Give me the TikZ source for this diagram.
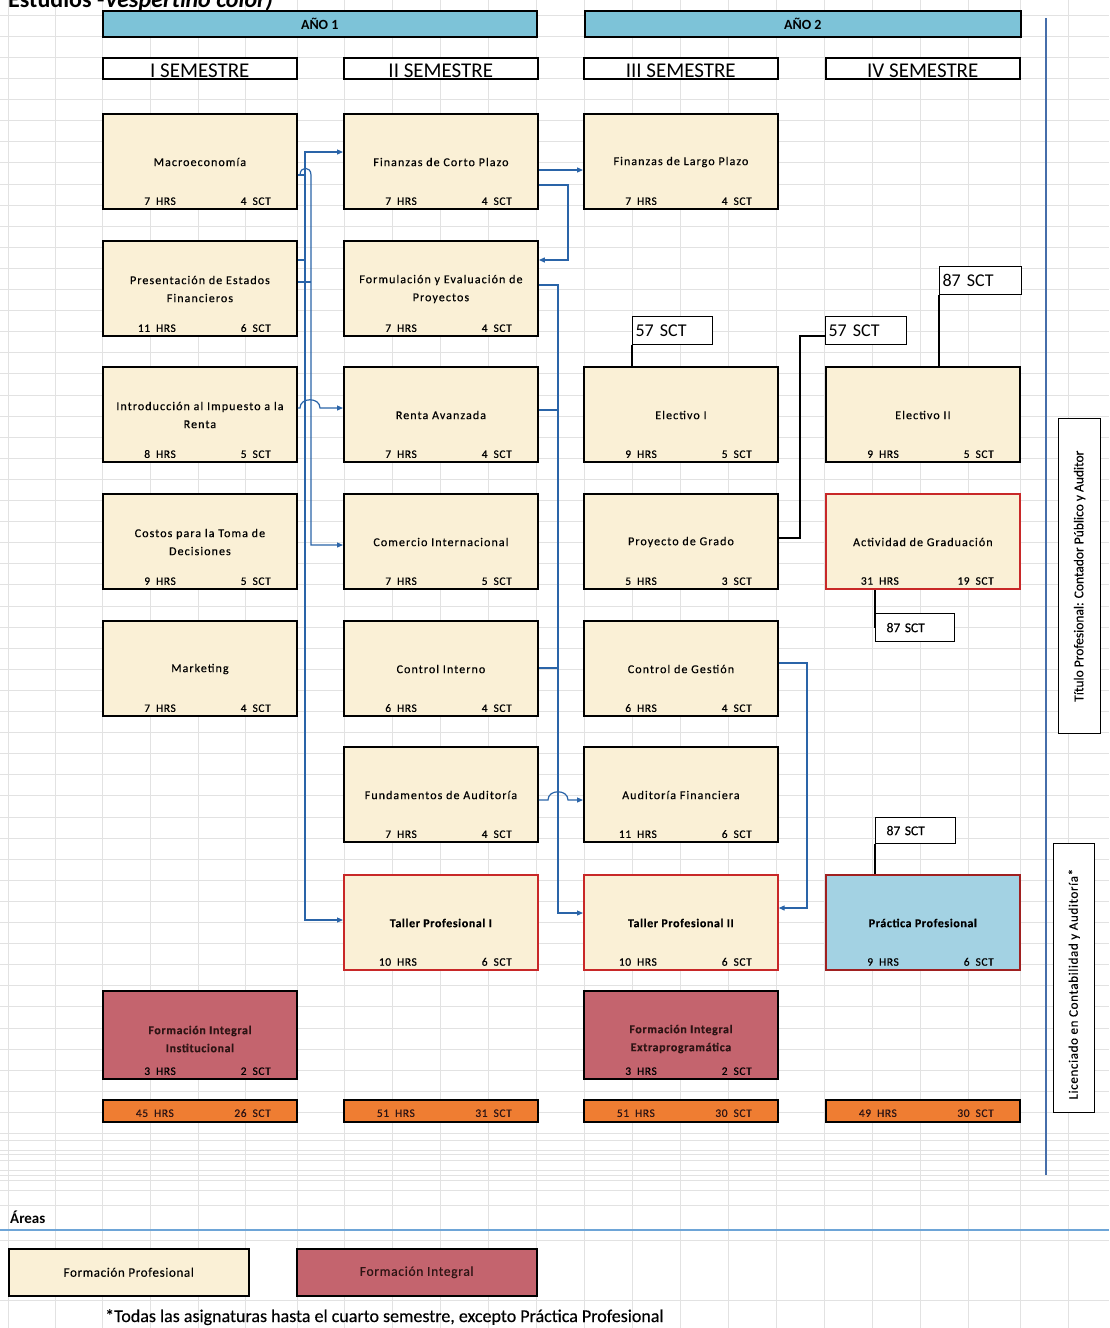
\documentclass[tikz,border=0pt]{standalone}
\usepackage{fontspec}
\setmainfont{Carlito}
\newfontfamily\spc[LetterSpace=9,FakeBold=0.4]{Carlito}
\newfontfamily\spcs[LetterSpace=5,FakeBold=0.4]{Carlito}
\newfontfamily\plainb[FakeBold=0.3]{Carlito}
\usetikzlibrary{arrows.meta,calc}
\definecolor{cream}{RGB}{250,240,214}
\definecolor{rose}{RGB}{196,100,110}
\definecolor{orangebar}{RGB}{239,125,50}
\definecolor{yearblue}{RGB}{125,195,216}
\definecolor{pracblue}{RGB}{163,210,227}
\definecolor{redb}{RGB}{200,40,40}
\definecolor{connblue}{RGB}{42,100,168}
\definecolor{gridc}{RGB}{226,226,226}
\definecolor{vlinec}{RGB}{70,110,170}
\definecolor{arealine}{RGB}{110,165,215}
\definecolor{darktxt}{RGB}{45,20,20}

\newcommand\crs[8]{%
  \node[#4] (#1) at (#2,#3) {};
  \node[ctitle,#8] (#1-t) at ($(#1.north)+(0,49)$) {#5};
  \node[hrs] (#1-h) at ($(#1.south west)+(74,-5)$) {#6\hspace{6pt}HRS};
  \node[hrs] (#1-s) at ($(#1.south west)+(169,-5)$) {#7\hspace{6pt}SCT};
}
\newcommand\totbar[4]{%
  \node[totb] (#1) at (#2,1099) {};
  \node[hrs,text=darktxt] (#1-h) at ($(#1.south west)+(72,-6)$) {#3\hspace{6pt}HRS};
  \node[hrs,text=darktxt] (#1-s) at ($(#1.south west)+(169,-6)$) {#4\hspace{6pt}SCT};
}

\begin{document}
\begin{tikzpicture}[x=1pt,y=-1pt,
  course/.style={draw=black, line width=1.9pt, fill=cream, minimum width=194pt, minimum height=95pt, anchor=north west, inner sep=0pt},
  redcourse/.style={course, draw=redb, line width=1.7pt},
  praccourse/.style={course, draw=redb!80!black, fill=pracblue, line width=1.7pt},
  rosecourse/.style={course, fill=rose, minimum height=88pt},
  ctitle/.style={align=center, inner sep=0pt, font=\spc\fontsize{12}{18}\selectfont},
  btitle/.style={font=\spcs\bfseries\fontsize{12}{18}\selectfont},
  hrs/.style={anchor=base east, inner sep=0pt, font=\spcs\fontsize{11.5}{12}\selectfont},
  totb/.style={draw=black, line width=1.9pt, fill=orangebar, minimum width=194pt, minimum height=22pt, anchor=north west, inner sep=0pt},
  yearbar/.style={draw=black, line width=1.5pt, fill=yearblue, anchor=north west, minimum height=26pt, inner sep=0pt, font=\bfseries\fontsize{14}{15}\selectfont},
  sembox/.style={draw=black, line width=1.6pt, fill=white, anchor=north west, minimum width=194pt, minimum height=21pt, inner sep=0pt},
  semtxt/.style={inner sep=0pt, anchor=base, font=\fontsize{21}{22}\selectfont},
  sctbox/.style={draw=black, line width=1.2pt, fill=white, anchor=north west, inner xsep=3pt, inner ysep=0pt, align=left},
  conn/.style={draw=connblue, line width=1.2pt},
  arr/.style={conn, -{Triangle[length=6pt,width=5pt]}},
  blk/.style={draw=black, line width=1.5pt},
  gridl/.style={draw=gridc, line width=0.6pt},
  vbox/.style={draw=black, line width=1.3pt, fill=white, anchor=north west, inner sep=0pt}
]
\useasboundingbox (0,0) rectangle (1109,1328);
\fill[white] (0,0) rectangle (1109,1328);

% spreadsheet grid
\foreach \gx in {8,55,102,150,198,245,297,344,392,440,488,536,584,632,680,728,776,824,872,920,968,1020,1068}
  \draw[gridl] (\gx,0) -- (\gx,1328);
\foreach \i in {0,...,55}
  \draw[gridl] (0,{15+21.1*\i}) -- (1109,{15+21.1*\i});
\foreach \gy in {1140,1150,1160,1170,1180,1190,1205,1240,1300}
  \draw[gridl] (0,\gy) -- (1109,\gy);

% cut title at the top
\begin{scope}
\clip (0,0) rectangle (1109,11);
\node[anchor=base west, inner sep=0pt, font=\bfseries\fontsize{24}{24}\selectfont] (ttl) at (8,7) {Estudios -\textit{Vespertino color)}};
\end{scope}

% year bars
\node[yearbar, minimum width=434pt] (y1) at (102,10) {AÑO 1};
\node[yearbar, minimum width=436pt] (y2) at (584,10) {AÑO 2};

% semester boxes
\node[sembox] (s1) at (102,57) {};
\node[sembox] (s2) at (343,57) {};
\node[sembox] (s3) at (583,57) {};
\node[sembox] (s4) at (825,57) {};
\node[semtxt] (s1-t) at ($(s1.south)+(0,-2)$) {I SEMESTRE};
\node[semtxt] (s2-t) at ($(s2.south)+(0,-2)$) {II SEMESTRE};
\node[semtxt] (s3-t) at ($(s3.south)+(0,-2)$) {III SEMESTRE};
\node[semtxt] (s4-t) at ($(s4.south)+(0,-2)$) {IV SEMESTRE};

% column 1
\crs{mac}{102}{113}{course}{Macroeconomía}{7}{4}{}
\crs{pef}{102}{240}{course}{Presentación de Estados\\Financieros}{11}{6}{}
\crs{iir}{102}{366}{course}{Introducción al Impuesto a la\\Renta}{8}{5}{}
\crs{ctd}{102}{493}{course}{Costos para la Toma de\\Decisiones}{9}{5}{}
\crs{mkt}{102}{620}{course}{Marketing}{7}{4}{}
\crs{fii}{102}{990}{rosecourse}{Formación Integral\\Institucional}{3}{2}{btitle,text=darktxt}

% column 2
\crs{fcp}{343}{113}{course}{Finanzas de Corto Plazo}{7}{4}{}
\crs{fep}{343}{240}{course}{Formulación y Evaluación de\\Proyectos}{7}{4}{}
\crs{ren}{343}{366}{course}{Renta Avanzada}{7}{4}{}
\crs{com}{343}{493}{course}{Comercio Internacional}{7}{5}{}
\crs{cin}{343}{620}{course}{Control Interno}{6}{4}{}
\crs{fau}{343}{746}{course}{Fundamentos de Auditoría}{7}{4}{}
\crs{tp1}{343}{874}{redcourse}{Taller Profesional I}{10}{6}{btitle}

% column 3
\crs{flp}{583}{113}{course}{Finanzas de Largo Plazo}{7}{4}{}
\crs{el1}{583}{366}{course}{Electivo I}{9}{5}{}
\crs{pgr}{583}{493}{course}{Proyecto de Grado}{5}{3}{}
\crs{cge}{583}{620}{course}{Control de Gestión}{6}{4}{}
\crs{afi}{583}{746}{course}{Auditoría Financiera}{11}{6}{}
\crs{tp2}{583}{874}{redcourse}{Taller Profesional II}{10}{6}{btitle}
\crs{fie}{583}{990}{rosecourse}{Formación Integral\\Extraprogramática}{3}{2}{btitle,text=darktxt}

% column 4
\crs{el2}{825}{366}{course}{Electivo II}{9}{5}{}
\crs{agr}{825}{493}{redcourse}{Actividad de Graduación}{31}{19}{}
\crs{ppr}{825}{874}{praccourse}{Práctica Profesional}{9}{6}{btitle}

% totals
\totbar{t1}{102}{45}{26}
\totbar{t2}{343}{51}{31}
\totbar{t3}{583}{51}{30}
\totbar{t4}{825}{49}{30}

% SCT milestone boxes
\node[sctbox, text width=74pt, minimum height=28pt, font=\fontsize{18}{20}\selectfont] (s57a) at (632,316) {57 SCT};
\node[sctbox, text width=75pt, minimum height=28pt, font=\fontsize{18}{20}\selectfont] (s57b) at (825,316) {57 SCT};
\node[sctbox, text width=76pt, minimum height=28pt, font=\fontsize{18}{20}\selectfont] (s87a) at (939,266) {87 SCT};
\node[sctbox, text width=73pt, minimum height=28pt, inner xsep=3pt, font=\plainb\fontsize{13.5}{15}\selectfont] (s87b) at (875,613) {\hspace{8pt}87 SCT};
\node[sctbox, text width=74pt, minimum height=26pt, inner xsep=3pt, font=\plainb\fontsize{13.5}{15}\selectfont] (s87c) at (875,817) {\hspace{8pt}87 SCT};

% black milestone links
\draw[blk] (s57a.south west) -- (s57a.south west |- el1.north);
\draw[blk] (s87a.south west) -- (s87a.south west |- el2.north);
\draw[blk] (s87b.west) -- (s87b.west |- agr.south);
\draw[blk] (s87c.south west) -- (s87c.south west |- ppr.north);
\draw[blk] (pgr.east |- 0,538) -- (800,538) -- (800,336) -- (s57b.west |- 0,336);

% connectors between column 1 and 2
\draw[conn] (mac.east |- 0,175) -- (305,175);
\draw[arr] (pef.east |- 0,260) -- (305,260) -- (305,152) -- (fcp.west |- 0,152);
\draw[arr] (305,260) -- (305,920) -- (tp1.west |- 0,920);
\draw[arr] (mac.east |- 0,175) -- (300,175) .. controls (300,166) and (311,166) .. (311,175) -- (311,545) -- (com.west |- 0,545);
\draw[conn] (pef.east |- 0,282) -- (311,282);
\draw[arr] (iir.east |- 0,408) -- (300,408) .. controls (300,397) and (320,397) .. (320,408) -- (ren.west |- 0,408);

% connectors between column 2 and 3
\draw[arr] (fcp.east |- 0,170) -- (flp.west |- 0,170);
\draw[arr] (fcp.east |- 0,185) -- (568,185) -- (568,260) -- (fep.east |- 0,260);
\draw[arr] (fep.east |- 0,285) -- (558,285) -- (558,913) -- (tp2.west |- 0,913);
\draw[conn] (ren.east |- 0,410) -- (558,410);
\draw[conn] (cin.east |- 0,668) -- (558,668);
\draw[arr] (fau.east |- 0,800) -- (548,800) .. controls (548,789) and (568,789) .. (568,800) -- (afi.west |- 0,800);

% connectors between column 3 and 4
\draw[arr] (cge.east |- 0,663) -- (807,663) -- (807,908) -- (tp2.east |- 0,908);

% right side
\coordinate (vt) at (1046,18);
\coordinate (vb) at (1046,1175);
\draw[draw=vlinec, line width=1.5pt] (vt) -- (vb);
\node[vbox, minimum width=42pt, minimum height=315pt] (tit) at (1058,418) {};
\node[rotate=90, inner sep=0pt, font=\plainb\fontsize{13.5}{14}\selectfont] (tit-t) at (tit.center) {Título Profesional: Contador Público y Auditor};
\node[vbox, minimum width=41pt, minimum height=269pt] (lic) at (1053,843) {};
\node[rotate=90, inner sep=0pt, font=\spcs\fontsize{13}{14}\selectfont] (lic-t) at ($(lic.center)+(0,6)$) {Licenciado en Contabilidad y Auditoría*};

% areas legend
\node[anchor=base west, inner sep=0pt, font=\bfseries\fontsize{15}{16}\selectfont] (areas) at (10,1223) {Áreas};
\coordinate (al) at (0,1230);
\coordinate (ar) at (1109,1230);
\draw[draw=arealine, line width=1.4pt] (al) -- (ar);
\node[draw=black, line width=1.5pt, fill=cream, anchor=north west, minimum width=240pt, minimum height=47pt, font=\spcs\fontsize{13}{14}\selectfont] (lgp) at (8,1248) {Formación Profesional};
\node[draw=black, line width=1.5pt, fill=rose, anchor=north west, minimum width=240pt, minimum height=47pt, font=\spcs\fontsize{13.5}{14}\selectfont, text=darktxt] (lgi) at (296,1248) {Formación Integral};

% footnote
\node[anchor=base west, inner sep=0pt, font=\plainb\fontsize{18}{20}\selectfont] (foot) at (105,1322) {*Todas las asignaturas hasta el cuarto semestre, excepto Práctica Profesional};
\end{tikzpicture}
\end{document}
